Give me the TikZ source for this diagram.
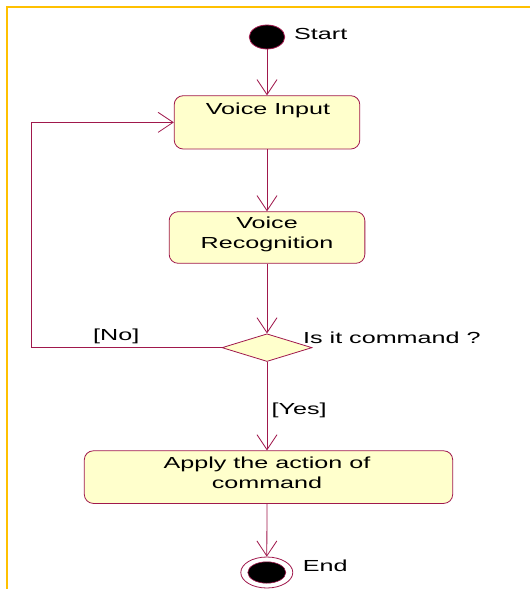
\documentclass[tikz,border=0pt]{standalone}
\usepackage{fontspec}
\newfontfamily\diafont[FakeStretch=1.57]{Liberation Sans}
\usetikzlibrary{arrows.meta,shapes.geometric}
\definecolor{umlline}{HTML}{A0184C}
\definecolor{umlfill}{HTML}{FFFFCC}
\definecolor{frameorange}{HTML}{FFC000}
\begin{document}
\begin{tikzpicture}[x=1pt,y=-1pt,
  txt/.style={font=\diafont\fontsize{16}{19.5}\selectfont, inner sep=0pt, text=black},
  activity/.style={draw=umlline, fill=umlfill, rounded corners=9pt, line width=0.8pt, inner sep=0pt},
  decision/.style={diamond, draw=umlline, fill=umlfill, line width=0.8pt, inner sep=0pt},
  flow/.style={draw=umlline, line width=0.8pt, -{Straight Barb[length=15pt, width=20pt, line width=0.8pt]}}]
\useasboundingbox (0,0) rectangle (530,589);
\fill[white] (0,0) rectangle (530,589);
% frame
\draw[frameorange, line width=1.8pt] (6.6,589) -- (6.6,6.6) -- (530,6.6);
% start
\node[ellipse, draw=umlline, fill=black, line width=0.8pt, minimum width=35.5pt, minimum height=24pt, inner sep=0pt] (start) at (267,37) {};
\node[txt, anchor=base west] (startlbl) at (294,39.9) {Start};
% activities
\node[activity, minimum width=185.6pt, minimum height=53.3pt] (vin) at (267,122.35) {};
\node[txt, anchor=base] (vintxt) at (268,114) {Voice Input};
\node[activity, minimum width=195.7pt, minimum height=51.6pt] (vr) at (267,237.5) {};
\node[txt, anchor=base, align=center] (vrtxt) at (267,248.1) {Voice\\Recognition};
\node[decision, minimum width=90pt, minimum height=27.7pt] (dec) at (267,347.65) {};
\node[txt, anchor=base west] (declbl) at (303,343.3) {Is it command ?};
\node[activity, minimum width=368.4pt, minimum height=52.6pt] (apply) at (268.5,477.1) {};
\node[txt, anchor=base, align=center] (applytxt) at (267,488.1) {Apply the action of\\command};
% end
\node[ellipse, draw=umlline, fill=white, line width=0.8pt, minimum width=52pt, minimum height=31pt, inner sep=0pt] (end) at (266.8,572.5) {};
\node[ellipse, draw=umlline, fill=black, line width=0.6pt, minimum width=38pt, minimum height=21.4pt, inner sep=0pt] (endin) at (266.8,572.5) {};
\node[txt, anchor=base west] (endlbl) at (302.7,571.7) {End};
% connectors
\draw[flow] (start.south) -- (vin.north);
\draw[flow] (vin.south) -- (vr.north);
\draw[flow] (vr.south) -- (dec.north);
\coordinate (loopc) at (31.4,347.65);
\draw[flow] (dec.west) -- (loopc) |- (vin.west);
\node[txt, anchor=base west] (nolbl) at (93,340.6) {[No]};
\draw[flow] (dec.south) -- (dec.south |- apply.north);
\node[txt, anchor=base west] (yeslbl) at (271.5,414.3) {[Yes]};
\draw[flow] (apply.south -| dec.south) -- (end.north);
\end{tikzpicture}
\end{document}
